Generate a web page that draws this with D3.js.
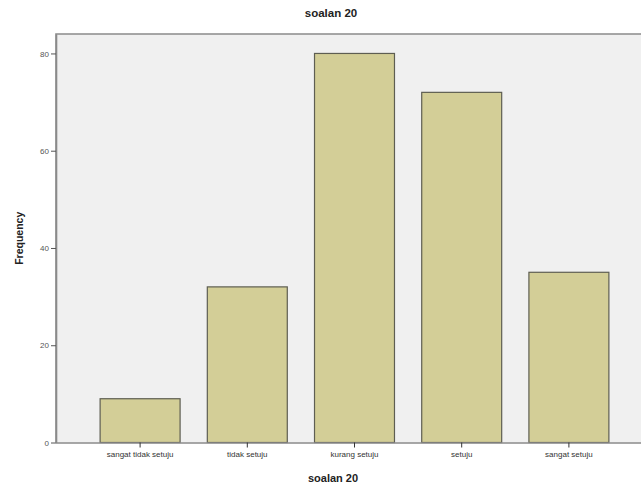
<!DOCTYPE html>
<html>
<head>
<meta charset="utf-8">
<script src="https://cdn.jsdelivr.net/npm/d3@7"></script>
<style>
    body { margin: 0; background: #fff; }
    svg { font-family: "Liberation Sans", Arial, sans-serif; }
</style>
</head>
<body>
<svg id="chart" width="641" height="486"></svg>
<script>
// data
const categories = ["sangat tidak setuju", "tidak setuju", "kurang setuju", "setuju", "sangat setuju"];
const frequencies = [9, 32, 80, 72, 35];
const yTicks = [0, 20, 40, 60, 80];

const svg = d3.select("#chart");

let plot = { left: 56, top: 34, right: 641, bottom: 442.5 };

let x = d3.scaleBand()
    .domain(categories)
    .range([86.5, 86.5 + 5 * 107.2])
    .paddingInner(0.254)
    .paddingOuter(0.127);

let y = d3.scaleLinear()
    .domain([0, 84])
    .range([plot.bottom, plot.top]);

// plot background
svg.append("rect")
    .attr("x", plot.left)
    .attr("y", plot.top)
    .attr("width", plot.right - plot.left + 2)
    .attr("height", plot.bottom - plot.top)
    .attr("fill", "#f0f0f0");

// frame: top and left edges
svg.append("path")
    .attr("d", `M${plot.left},${plot.bottom} L${plot.left},${plot.top} L${plot.right + 2},${plot.top}`)
    .attr("fill", "none")
    .attr("stroke", "#8a8a8a")
    .attr("stroke-width", 1.6);

// bars
svg.append("g")
    .selectAll("rect.bar")
    .data(categories)
    .enter()
    .append("rect")
        .classed("bar", true)
        .attr("x", d => x(d))
        .attr("y", (d, i) => y(frequencies[i]))
        .attr("width", x.bandwidth())
        .attr("height", (d, i) => y(0) - y(frequencies[i]))
        .attr("fill", "#d3ce97")
        .attr("stroke", "#5e5e52")
        .attr("stroke-width", 1.2);

// y axis
let yAxis = svg.append("g")
    .attr("transform", `translate(${plot.left},0)`)
    .call(d3.axisLeft(y).tickValues(yTicks).tickSize(5).tickPadding(2).tickSizeOuter(0));
yAxis.select(".domain").attr("stroke", "#8a8a8a").attr("stroke-width", 1.6);
yAxis.selectAll(".tick line").attr("stroke", "#555");
yAxis.selectAll(".tick text")
    .attr("fill", "#555")
    .style("font-size", "8px")
    .style("font-family", "Liberation Sans, Arial, sans-serif");

// x axis
let xAxis = svg.append("g")
    .attr("transform", `translate(0,${plot.bottom})`)
    .call(d3.axisBottom(x).tickSize(5).tickPadding(4).tickSizeOuter(0));
xAxis.select(".domain")
    .attr("d", `M${plot.left},0.5 H${plot.right + 2}`)
    .attr("stroke", "#8a8a8a")
    .attr("stroke-width", 1.6);
xAxis.selectAll(".tick line").attr("stroke", "#333");
xAxis.selectAll(".tick text")
    .attr("fill", "#333")
    .style("font-size", "8px")
    .style("font-family", "Liberation Sans, Arial, sans-serif");

// titles
svg.append("text")
    .attr("x", 331)
    .attr("y", 17)
    .attr("text-anchor", "middle")
    .style("font-size", "11.5px")
    .style("font-weight", "bold")
    .attr("fill", "#222")
    .text("soalan 20");

svg.append("text")
    .attr("x", 333)
    .attr("y", 482)
    .attr("text-anchor", "middle")
    .style("font-size", "11px")
    .style("font-weight", "bold")
    .attr("fill", "#222")
    .text("soalan 20");

svg.append("text")
    .attr("transform", `translate(23,${(plot.top + plot.bottom) / 2}) rotate(-90)`)
    .attr("text-anchor", "middle")
    .style("font-size", "10.5px")
    .style("font-weight", "bold")
    .attr("fill", "#222")
    .text("Frequency");
</script>
</body>
</html>
